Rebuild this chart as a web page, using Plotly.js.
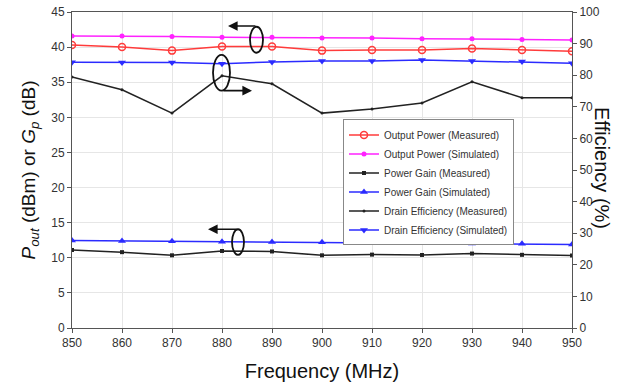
<!DOCTYPE html>
<html><head><meta charset="utf-8">
<script src="https://cdn.plot.ly/plotly-3.0.1.min.js"></script>
<style>html,body{margin:0;padding:0;background:#fff}</style>
</head><body>
<div id="chart" style="width:637px;height:388px"></div>
<script>
const freq = [850, 860, 870, 880, 890, 900, 910, 920, 930, 940, 950];
const poutMeas = [40.3, 40.0, 39.5, 40.1, 40.1, 39.5, 39.6, 39.6, 39.8, 39.6, 39.4];
const poutSim = [41.6, 41.6, 41.5, 41.4, 41.4, 41.3, 41.3, 41.2, 41.2, 41.1, 41.0];
const gainMeas = [11.1, 10.8, 10.35, 10.97, 10.9, 10.35, 10.45, 10.4, 10.6, 10.42, 10.33];
const gainSim = [12.45, 12.4, 12.35, 12.3, 12.25, 12.2, 12.15, 12.1, 12.05, 12.0, 11.88];
const effMeas = [79.4, 75.4, 68.0, 79.8, 77.3, 68.0, 69.3, 71.2, 77.9, 72.9, 72.9];
const effSim = [84.1, 84.0, 84.0, 83.6, 84.2, 84.5, 84.5, 84.8, 84.5, 84.3, 83.8];

const traces = [
  {x: freq, y: poutMeas, name: 'Output Power (Measured)', mode: 'lines+markers',
   line: {color: '#ff3b3b', width: 1.5}, marker: {symbol: 'circle-open', size: 7, color: '#ff3b3b', line: {width: 1.5}}},
  {x: freq, y: poutSim, name: 'Output Power (Simulated)', mode: 'lines+markers',
   line: {color: '#ff22ff', width: 1.5}, marker: {symbol: 'circle', size: 5, color: '#ff22ff'}},
  {x: freq, y: gainMeas, name: 'Power Gain (Measured)', mode: 'lines+markers',
   line: {color: '#222', width: 1.5}, marker: {symbol: 'square', size: 4, color: '#222'}},
  {x: freq, y: gainSim, name: 'Power Gain (Simulated)', mode: 'lines+markers',
   line: {color: '#2b2bff', width: 1.5}, marker: {symbol: 'triangle-up', size: 7, color: '#2b2bff'}},
  {x: freq, y: effMeas, name: 'Drain Efficiency (Measured)', mode: 'lines+markers', yaxis: 'y2',
   line: {color: '#222', width: 1.5}, marker: {symbol: 'circle', size: 3, color: '#222'}},
  {x: freq, y: effSim, name: 'Drain Efficiency (Simulated)', mode: 'lines+markers', yaxis: 'y2',
   line: {color: '#2b2bff', width: 1.5}, marker: {symbol: 'triangle-down', size: 7, color: '#2b2bff'}}
];

const tickFont = {family: 'Arial, Liberation Sans, sans-serif', size: 12, color: '#333'};
const layout = {
  width: 637, height: 388,
  margin: {l: 72, r: 65, t: 12, b: 60},
  paper_bgcolor: '#fff', plot_bgcolor: '#fff',
  showlegend: true,
  legend: {x: 0.542, y: 0.66, xanchor: 'left', yanchor: 'top',
    bgcolor: '#fff', bordercolor: '#888', borderwidth: 1,
    font: {family: 'Arial, Liberation Sans, sans-serif', size: 10, color: '#333'},
    tracegroupgap: 0, itemwidth: 30},
  xaxis: {range: [850, 950], dtick: 10, tick0: 850, showgrid: true, gridcolor: '#e6e6e6',
    showline: true, linecolor: '#555', linewidth: 1, mirror: true,
    ticks: 'outside', ticklen: 4, tickcolor: '#555', tickfont: tickFont, zeroline: false,
    title: {text: 'Frequency (MHz)', font: {family: 'Arial, Liberation Sans, sans-serif', size: 20, color: '#111'}, standoff: 14}},
  yaxis: {range: [0, 45], dtick: 5, showgrid: true, gridcolor: '#e6e6e6',
    showline: true, linecolor: '#555', linewidth: 1,
    ticks: 'outside', ticklen: 4, tickcolor: '#555', tickfont: tickFont, zeroline: false,
    title: {text: '<i>P</i><sub><i>out</i></sub> (dBm) or <i>G</i><sub><i>p</i></sub> (dB)',
      font: {family: 'Arial, Liberation Sans, sans-serif', size: 19, color: '#111'}, standoff: 10}},
  yaxis2: {range: [0, 100], dtick: 10, overlaying: 'y', side: 'right', showgrid: false,
    showline: true, linecolor: '#555', linewidth: 1,
    ticks: 'outside', ticklen: 4, tickcolor: '#555', tickfont: tickFont, zeroline: false},
  shapes: [
    {type: 'circle', xref: 'x', yref: 'y', x0: 885.6, x1: 888.2, y0: 39.2, y1: 42.9, line: {color: '#111', width: 1.8}},
    {type: 'circle', xref: 'x', yref: 'y', x0: 878.2, x1: 881.6, y0: 33.8, y1: 38.9, line: {color: '#111', width: 1.8}},
    {type: 'circle', xref: 'x', yref: 'y', x0: 882.0, x1: 884.4, y0: 10.4, y1: 14.06, line: {color: '#111', width: 1.8}}
  ],
  annotations: [
    {xref: 'x', yref: 'y', x: 881.2, y: 43.0, ax: 887.0, ay: 43.0, axref: 'x', ayref: 'y',
     showarrow: true, arrowhead: 2, arrowsize: 1.2, arrowwidth: 1.6, arrowcolor: '#111', text: ''},
    {xref: 'x', yref: 'y', x: 886.0, y: 33.8, ax: 880.0, ay: 33.8, axref: 'x', ayref: 'y',
     showarrow: true, arrowhead: 2, arrowsize: 1.2, arrowwidth: 1.6, arrowcolor: '#111', text: ''},
    {xref: 'x', yref: 'y', x: 877.2, y: 14.06, ax: 883.2, ay: 14.06, axref: 'x', ayref: 'y',
     showarrow: true, arrowhead: 2, arrowsize: 1.2, arrowwidth: 1.6, arrowcolor: '#111', text: ''},
    {xref: 'paper', yref: 'paper', x: 1.086, y: 0.506, showarrow: false, textangle: 90,
     text: 'Efficiency (%)', font: {family: 'Arial, Liberation Sans, sans-serif', size: 20, color: '#111'}}
  ]
};
Plotly.newPlot('chart', traces, layout, {displayModeBar: false, staticPlot: true});
</script>
</body></html>
